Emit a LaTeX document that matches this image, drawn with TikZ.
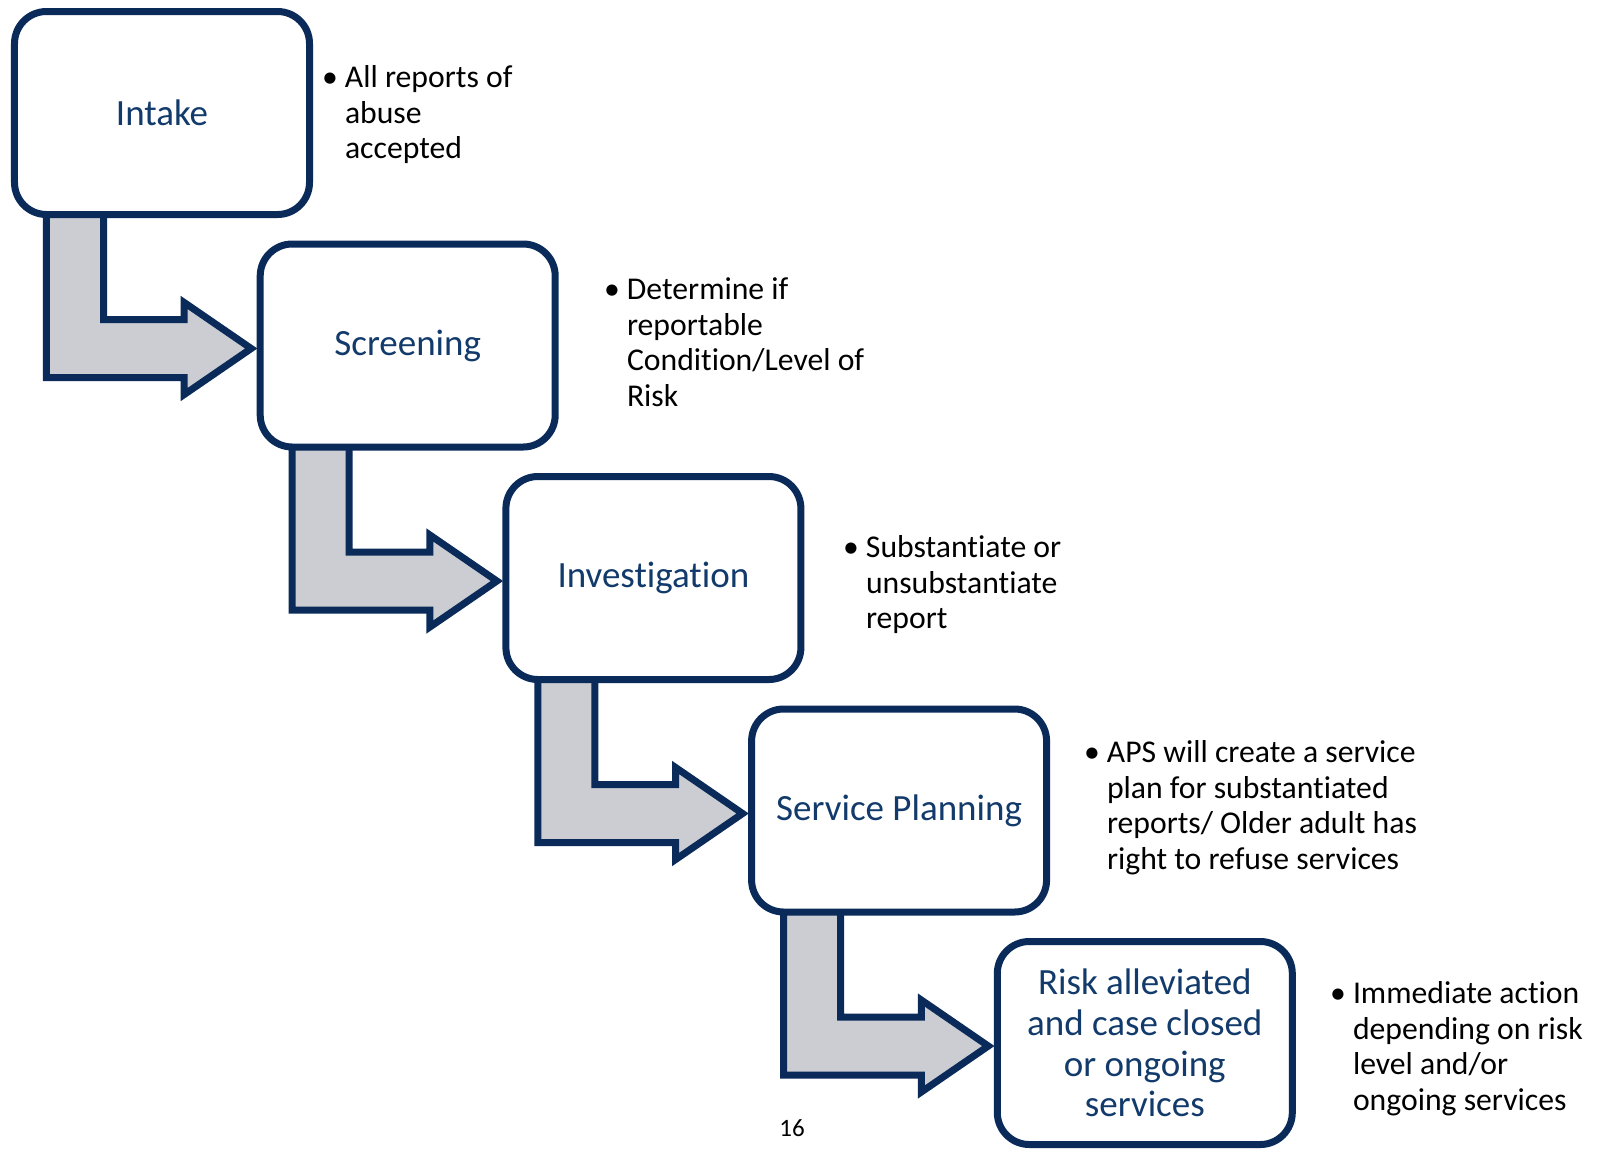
\documentclass[tikz,border=0pt]{standalone}
\usepackage{fontspec}
\setmainfont{Carlito}[Ligatures=NoCommon]
\usetikzlibrary{calc,backgrounds,shadows}

\definecolor{navy}{HTML}{0A2B5A}
\definecolor{labelblue}{HTML}{123A6B}
\definecolor{shaftgray}{HTML}{CBCDD2}

\tikzset{
  stage/.style={draw=navy, line width=7bp, fill=white, rounded corners=32bp,
    minimum width=295bp, minimum height=203bp, inner sep=0pt, outer sep=0pt,
    align=center, text=labelblue, font=\fontsize{37bp}{40.8bp}\selectfont,
    drop shadow={shadow xshift=2bp, shadow yshift=-3bp, opacity=0.18}},
  bendarrow/.style={draw=navy, line width=7bp, fill=shaftgray,
    drop shadow={shadow xshift=2bp, shadow yshift=-3bp, opacity=0.18}},
  note/.style={anchor=base west, inner sep=0pt, outer sep=0pt,
    font=\fontsize{31.7bp}{35.6bp}\selectfont},
}
\newcommand{\bitem}[1]{\makebox[20bp][l]{\hspace{-3bp}\textbullet}\begin{tabular}[t]{@{}l@{}}#1\end{tabular}}

\begin{document}
\begin{tikzpicture}[x=1bp,y=-1bp]
\useasboundingbox (0,0) rectangle (1600,1151);
% stages
\node[stage] (intake) at (162,113) {Intake};
\node[stage] (screen) at (407.7,345.5) {Screening};
\node[stage] (invest) at (653.4,578) {Investigation};
\node[stage] (plan) at (899.1,810.5) {Service Planning};
\node[stage] (risk) at (1144.8,1043) {Risk alleviated\\and case closed\\or ongoing\\services};
% notes
\node[note] (n1) at (325,87.5) {\bitem{All reports of\\abuse\\accepted}};
\node[note] (n2) at (607,299.5) {\bitem{Determine if\\reportable\\Condition/Level of\\Risk}};
\node[note] (n3) at (846,557.5) {\bitem{Substantiate or\\unsubstantiate\\report}};
\node[note] (n4) at (1087,762.5) {\bitem{APS will create a service\\plan for substantiated\\reports/ Older adult has\\right to refuse services}};
\node[note] (n5) at (1333,1003.5) {\bitem{Immediate action\\depending on risk\\level and/or\\ongoing services}};
\node[anchor=base, inner sep=0pt, font=\fontsize{25bp}{30bp}\selectfont] (pagenum) at (792,1136) {16};
% bent arrows
\begin{scope}[on background layer]
\foreach \a/\b in {intake/screen, screen/invest, invest/plan, plan/risk}
  \draw[bendarrow] let \p1=($(\a.south west)+(32,-5)$), \p2=($(\b.west)+(-9,3)$) in
    (\x1,\y1) -- (\x1,\y2-29bp) -- (\x2-67bp,\y2-29bp) -- (\x2-67bp,\y2-46bp)
    -- (\x2,\y2) -- (\x2-67bp,\y2+46bp) -- (\x2-67bp,\y2+29bp)
    -- (\x1+57bp,\y2+29bp) -- (\x1+57bp,\y1) -- cycle;
\end{scope}
\end{tikzpicture}
\end{document}
